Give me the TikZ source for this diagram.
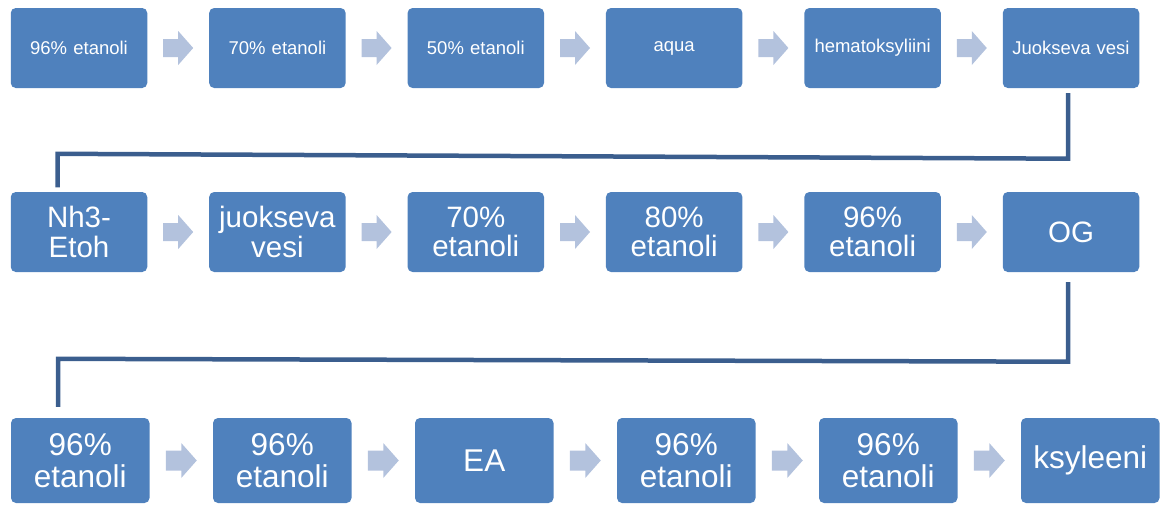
\documentclass[tikz,border=0pt]{standalone}
\usepackage{fontspec}
\setmainfont{Liberation Sans}
\usetikzlibrary{calc}
\definecolor{boxblue}{HTML}{4F81BD}
\definecolor{arrblue}{HTML}{B3C2DD}
\definecolor{linblue}{HTML}{3B5E8E}
\begin{document}
\begin{tikzpicture}[x=1pt,y=-1pt,
 box/.style={fill=boxblue, rounded corners=5pt, text=white, align=center, inner sep=0pt, minimum width=136.5pt, minimum height=80pt, text width=134pt},
 boxs/.style={box, font=\fontsize{18.5}{21}\selectfont},
 boxm/.style={box, font=\fontsize{29.5}{29.5}\selectfont},
 boxl/.style={box, minimum width=138.5pt, minimum height=85pt, text width=136pt, font=\fontsize{31.5}{32.3}\selectfont},
 chev/.pic={\fill[arrblue] (-15,-9) -- (0,-9) -- (0,-17) -- (15,0) -- (0,17) -- (0,9) -- (-15,9) -- cycle;},
 chevl/.pic={\fill[arrblue] (-15.5,-10) -- (0,-10) -- (0,-17.5) -- (15.5,0) -- (0,17.5) -- (0,10) -- (-15.5,10) -- cycle;},
 conn/.style={draw=linblue, line width=4.5pt, line join=miter}
]
\useasboundingbox (0,0) rectangle (1160,504);
% row 1
\node[boxs] (a1) at (79,48) {96\% etanoli};
\node[boxs] (a2) at (277.4,48) {70\% etanoli};
\node[boxs] (a3) at (475.8,48) {50\% etanoli};
\node[boxs] (a4) at (674.2,48) {aqua};
\node[boxs] (a5) at (872.6,48) {hematoksyliini};
\node[boxs] (a6) at (1071,48) {Juokseva vesi};
\foreach \p/\q in {a1/a2,a2/a3,a3/a4,a4/a5,a5/a6}
  \pic at ($(\p.east)!0.5!(\q.west)$) {chev};
% row 2
\node[boxm] (b1) at (79,232) {Nh3-\\Etoh};
\node[boxm] (b2) at (277.4,232) {juokseva\\vesi};
\node[boxm] (b3) at (475.8,232) {70\%\\etanoli};
\node[boxm] (b4) at (674.2,232) {80\%\\etanoli};
\node[boxm] (b5) at (872.6,232) {96\%\\etanoli};
\node[boxm] (b6) at (1071,232) {OG};
\foreach \p/\q in {b1/b2,b2/b3,b3/b4,b4/b5,b5/b6}
  \pic at ($(\p.east)!0.5!(\q.west)$) {chev};
% row 3
\node[boxl] (c1) at (80.25,460.5) {96\%\\etanoli};
\node[boxl] (c2) at (282.25,460.5) {96\%\\etanoli};
\node[boxl] (c3) at (484.25,460.5) {EA};
\node[boxl] (c4) at (686.25,460.5) {96\%\\etanoli};
\node[boxl] (c5) at (888.25,460.5) {96\%\\etanoli};
\node[boxl] (c6) at (1090.25,460.5) {ksyleeni};
\foreach \p/\q in {c1/c2,c2/c3,c3/c4,c4/c5,c5/c6}
  \pic at ($(\p.east)!0.5!(\q.west)$) {chevl};
% connectors
\draw[conn] ([shift={(-3,5)}]a6.south) -- ([shift={(-3,70.5)}]a6.south)
  -- ([shift={(-21.5,-38)}]b1.north) -- ([shift={(-21.5,-4.5)}]b1.north);
\draw[conn] ([shift={(-3,10)}]b6.south) -- ([shift={(-3,89.5)}]b6.south)
  -- ([shift={(-22.25,-59)}]c1.north) -- ([shift={(-22.25,-11)}]c1.north);
\end{tikzpicture}
\end{document}
